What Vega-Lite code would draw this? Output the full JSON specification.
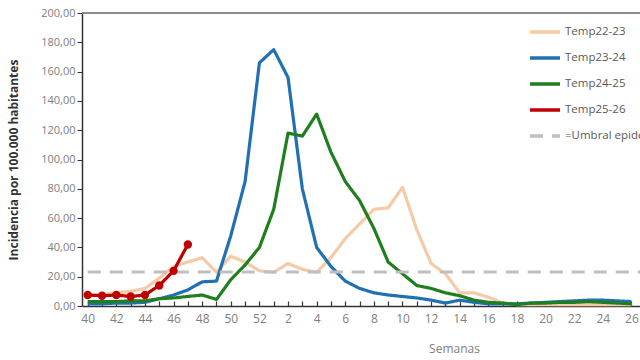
{
  "$schema": "https://vega.github.io/schema/vega-lite/v6.json",
  "autosize": {"type": "none"},
  "width": 558,
  "height": 293,
  "padding": {"left": 82, "top": 13, "right": 0, "bottom": 54},
  "background": "white",
  "config": {"font": "Open Sans", "view": {"stroke": null}, "axis": {"labelOverlap": false}},
  "datasets": {
    "series": [
      {"serie": "Temp22-23", "idx": 0, "valor": 7}, {"serie": "Temp22-23", "idx": 1, "valor": 8}, {"serie": "Temp22-23", "idx": 2, "valor": 9}, {"serie": "Temp22-23", "idx": 3, "valor": 10}, {"serie": "Temp22-23", "idx": 4, "valor": 12}, {"serie": "Temp22-23", "idx": 5, "valor": 19}, {"serie": "Temp22-23", "idx": 6, "valor": 27}, {"serie": "Temp22-23", "idx": 7, "valor": 30}, {"serie": "Temp22-23", "idx": 8, "valor": 33}, {"serie": "Temp22-23", "idx": 9, "valor": 23}, {"serie": "Temp22-23", "idx": 10, "valor": 34}, {"serie": "Temp22-23", "idx": 11, "valor": 30}, {"serie": "Temp22-23", "idx": 12, "valor": 24},
      {"serie": "Temp22-23", "idx": 13, "valor": 23}, {"serie": "Temp22-23", "idx": 14, "valor": 29}, {"serie": "Temp22-23", "idx": 15, "valor": 25}, {"serie": "Temp22-23", "idx": 16, "valor": 23}, {"serie": "Temp22-23", "idx": 17, "valor": 33}, {"serie": "Temp22-23", "idx": 18, "valor": 46}, {"serie": "Temp22-23", "idx": 19, "valor": 56}, {"serie": "Temp22-23", "idx": 20, "valor": 66}, {"serie": "Temp22-23", "idx": 21, "valor": 67}, {"serie": "Temp22-23", "idx": 22, "valor": 81}, {"serie": "Temp22-23", "idx": 23, "valor": 52}, {"serie": "Temp22-23", "idx": 24, "valor": 29}, {"serie": "Temp22-23", "idx": 25, "valor": 22}, {"serie": "Temp22-23", "idx": 26, "valor": 9}, {"serie": "Temp22-23", "idx": 27, "valor": 9}, {"serie": "Temp22-23", "idx": 28, "valor": 6}, {"serie": "Temp22-23", "idx": 29, "valor": 2}, {"serie": "Temp22-23", "idx": 30, "valor": 1}, {"serie": "Temp22-23", "idx": 31, "valor": 1}, {"serie": "Temp22-23", "idx": 32, "valor": 1}, {"serie": "Temp22-23", "idx": 33, "valor": 1}, {"serie": "Temp22-23", "idx": 34, "valor": 1}, {"serie": "Temp22-23", "idx": 35, "valor": 1}, {"serie": "Temp22-23", "idx": 36, "valor": 1}, {"serie": "Temp22-23", "idx": 37, "valor": 1}, {"serie": "Temp22-23", "idx": 38, "valor": 1},
      {"serie": "Temp23-24", "idx": 0, "valor": 1.5}, {"serie": "Temp23-24", "idx": 1, "valor": 1.5}, {"serie": "Temp23-24", "idx": 2, "valor": 2}, {"serie": "Temp23-24", "idx": 3, "valor": 2}, {"serie": "Temp23-24", "idx": 4, "valor": 2.5}, {"serie": "Temp23-24", "idx": 5, "valor": 5}, {"serie": "Temp23-24", "idx": 6, "valor": 7.5}, {"serie": "Temp23-24", "idx": 7, "valor": 11}, {"serie": "Temp23-24", "idx": 8, "valor": 16.5}, {"serie": "Temp23-24", "idx": 9, "valor": 17}, {"serie": "Temp23-24", "idx": 10, "valor": 48}, {"serie": "Temp23-24", "idx": 11, "valor": 85}, {"serie": "Temp23-24", "idx": 12, "valor": 166},
      {"serie": "Temp23-24", "idx": 13, "valor": 175}, {"serie": "Temp23-24", "idx": 14, "valor": 156}, {"serie": "Temp23-24", "idx": 15, "valor": 80}, {"serie": "Temp23-24", "idx": 16, "valor": 40}, {"serie": "Temp23-24", "idx": 17, "valor": 27}, {"serie": "Temp23-24", "idx": 18, "valor": 17}, {"serie": "Temp23-24", "idx": 19, "valor": 12}, {"serie": "Temp23-24", "idx": 20, "valor": 9}, {"serie": "Temp23-24", "idx": 21, "valor": 7.5}, {"serie": "Temp23-24", "idx": 22, "valor": 6.5}, {"serie": "Temp23-24", "idx": 23, "valor": 5.5}, {"serie": "Temp23-24", "idx": 24, "valor": 4}, {"serie": "Temp23-24", "idx": 25, "valor": 2}, {"serie": "Temp23-24", "idx": 26, "valor": 4}, {"serie": "Temp23-24", "idx": 27, "valor": 2.5}, {"serie": "Temp23-24", "idx": 28, "valor": 1.5}, {"serie": "Temp23-24", "idx": 29, "valor": 1.5}, {"serie": "Temp23-24", "idx": 30, "valor": 1.5}, {"serie": "Temp23-24", "idx": 31, "valor": 2}, {"serie": "Temp23-24", "idx": 32, "valor": 2.5}, {"serie": "Temp23-24", "idx": 33, "valor": 3}, {"serie": "Temp23-24", "idx": 34, "valor": 3.5}, {"serie": "Temp23-24", "idx": 35, "valor": 4}, {"serie": "Temp23-24", "idx": 36, "valor": 4}, {"serie": "Temp23-24", "idx": 37, "valor": 3.5}, {"serie": "Temp23-24", "idx": 38, "valor": 3},
      {"serie": "Temp24-25", "idx": 0, "valor": 3}, {"serie": "Temp24-25", "idx": 1, "valor": 3}, {"serie": "Temp24-25", "idx": 2, "valor": 3}, {"serie": "Temp24-25", "idx": 3, "valor": 3.5}, {"serie": "Temp24-25", "idx": 4, "valor": 3.5}, {"serie": "Temp24-25", "idx": 5, "valor": 5}, {"serie": "Temp24-25", "idx": 6, "valor": 5.5}, {"serie": "Temp24-25", "idx": 7, "valor": 6.5}, {"serie": "Temp24-25", "idx": 8, "valor": 7.5}, {"serie": "Temp24-25", "idx": 9, "valor": 4.5}, {"serie": "Temp24-25", "idx": 10, "valor": 18}, {"serie": "Temp24-25", "idx": 11, "valor": 28}, {"serie": "Temp24-25", "idx": 12, "valor": 40},
      {"serie": "Temp24-25", "idx": 13, "valor": 66}, {"serie": "Temp24-25", "idx": 14, "valor": 118}, {"serie": "Temp24-25", "idx": 15, "valor": 116}, {"serie": "Temp24-25", "idx": 16, "valor": 131}, {"serie": "Temp24-25", "idx": 17, "valor": 105}, {"serie": "Temp24-25", "idx": 18, "valor": 85}, {"serie": "Temp24-25", "idx": 19, "valor": 72}, {"serie": "Temp24-25", "idx": 20, "valor": 53}, {"serie": "Temp24-25", "idx": 21, "valor": 30}, {"serie": "Temp24-25", "idx": 22, "valor": 22}, {"serie": "Temp24-25", "idx": 23, "valor": 14}, {"serie": "Temp24-25", "idx": 24, "valor": 12}, {"serie": "Temp24-25", "idx": 25, "valor": 9}, {"serie": "Temp24-25", "idx": 26, "valor": 7}, {"serie": "Temp24-25", "idx": 27, "valor": 4}, {"serie": "Temp24-25", "idx": 28, "valor": 2.5}, {"serie": "Temp24-25", "idx": 29, "valor": 2}, {"serie": "Temp24-25", "idx": 30, "valor": 1}, {"serie": "Temp24-25", "idx": 31, "valor": 2}, {"serie": "Temp24-25", "idx": 32, "valor": 2}, {"serie": "Temp24-25", "idx": 33, "valor": 2.5}, {"serie": "Temp24-25", "idx": 34, "valor": 2.5}, {"serie": "Temp24-25", "idx": 35, "valor": 3}, {"serie": "Temp24-25", "idx": 36, "valor": 2.5}, {"serie": "Temp24-25", "idx": 37, "valor": 2}, {"serie": "Temp24-25", "idx": 38, "valor": 1.5},
      {"serie": "Temp25-26", "idx": 0, "valor": 7.5}, {"serie": "Temp25-26", "idx": 1, "valor": 7}, {"serie": "Temp25-26", "idx": 2, "valor": 7.5}, {"serie": "Temp25-26", "idx": 3, "valor": 6.5}, {"serie": "Temp25-26", "idx": 4, "valor": 7.5}, {"serie": "Temp25-26", "idx": 5, "valor": 14}, {"serie": "Temp25-26", "idx": 6, "valor": 24}, {"serie": "Temp25-26", "idx": 7, "valor": 42},
      {"serie": "=Umbral epidémico", "idx": 0, "valor": 23.2}, {"serie": "=Umbral epidémico", "idx": 38.6, "valor": 23.2}
    ]
  },
  "data": {"name": "series"},
  "encoding": {
    "x": {
      "field": "idx", "type": "quantitative",
      "scale": {"domain": [-0.4, 38.6], "nice": false, "zero": false},
      "axis": {
        "values": [0,1,2,3,4,5,6,7,8,9,10,11,12,13,14,15,16,17,18,19,20,21,22,23,24,25,26,27,28,29,30,31,32,33,34,35,36,37,38],
        "labelExpr": "datum.value % 2 == 0 ? '' + ((datum.value + 39) % 52 + 1) : ''",
        "title": "Semanas", "grid": false,
        "domainColor": "#333333", "domainWidth": 1.5,
        "tickColor": "#333333", "tickSize": -5, "tickWidth": 1.2,
        "labelPadding": 12, "labelFontSize": 12, "labelColor": "#808080",
        "labelFlush": false, "labelOverlap": false, "labelBound": false,
        "titleFontSize": 12, "titleFontWeight": "normal", "titleColor": "#808080",
        "titleX": 372, "titleY": 42, "titleBaseline": "middle"
      }
    },
    "y": {
      "field": "valor", "type": "quantitative",
      "scale": {"domain": [0, 200]},
      "axis": {
        "values": [0,20,40,60,80,100,120,140,160,180,200],
        "labelExpr": "replace(format(datum.value, '.2f'), '.', ',')",
        "title": "Incidencia por 100.000 habitantes", "grid": false,
        "domainColor": "#333333", "domainWidth": 1.5,
        "tickColor": "#333333", "tickSize": 5,
        "labelFontSize": 11, "labelColor": "#808080", "labelFlush": false, "labelOverlap": false,
        "titleFontSize": 12, "titleFontWeight": "bold", "titleColor": "#333333", "titlePadding": 20
      }
    }
  },
  "layer": [
    {
      "mark": {"type": "rule", "color": "#8c8c8c", "strokeWidth": 1.5},
      "encoding": {"x": {"value": 0}, "x2": {"value": 558}, "y": {"datum": 200, "type": "quantitative"}}
    },
    {
      "mark": {"type": "line", "strokeWidth": 3.2, "strokeJoin": "round"},
      "encoding": {
        "color": {
          "field": "serie", "type": "nominal",
          "scale": {
            "domain": ["Temp22-23", "Temp23-24", "Temp24-25", "Temp25-26", "=Umbral epidémico"],
            "range": ["#F5CBA7", "#2270B4", "#1F7F1F", "#C00000", "#BFBFBF"]
          },
          "legend": {
            "title": null, "orient": "none", "legendX": 446, "legendY": 2,
            "symbolType": "stroke", "symbolSize": 900, "symbolStrokeWidth": 3.5,
            "labelFontSize": 11.5, "labelColor": "#595959", "rowPadding": 2, "labelOffset": 3
          }
        },
        "strokeDash": {
          "field": "serie", "type": "nominal",
          "scale": {
            "domain": ["Temp22-23", "Temp23-24", "Temp24-25", "Temp25-26", "=Umbral epidémico"],
            "range": [[1, 0], [1, 0], [1, 0], [1, 0], [13, 9]]
          },
          "legend": {
            "title": null, "orient": "none", "legendX": 446, "legendY": 2,
            "symbolType": "stroke", "symbolSize": 900, "symbolStrokeWidth": 3.5,
            "labelFontSize": 11.5, "labelColor": "#595959", "rowPadding": 2, "labelOffset": 3
          }
        }
      }
    },
    {
      "transform": [{"filter": "datum.serie == 'Temp25-26'"}],
      "mark": {"type": "circle", "size": 70, "color": "#C00000", "opacity": 1}
    }
  ]
}
